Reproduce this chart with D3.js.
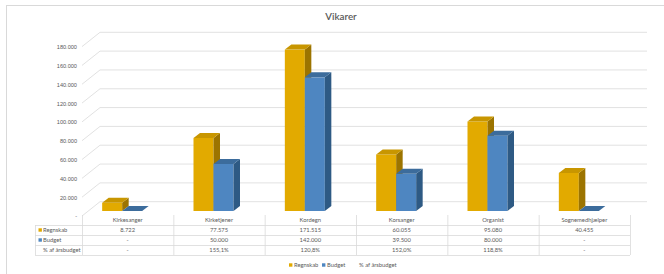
<!DOCTYPE html>
<html>
<head>
<meta charset="utf-8">
<script src="https://cdn.jsdelivr.net/npm/d3@7"></script>
<style>
  body { margin: 0; background: #fff; }
  svg { display: block; font-family: Lato, "Open Sans", sans-serif; }
  text { fill: #595959; }
</style>
</head>
<body>
<script>
const categories = ["Kirkesanger", "Kirketjener", "Kordegn", "Korsanger", "Organist", "Sognemedhjælper"];
const regnskab = [8722, 77575, 171515, 60055, 95080, 40455];
const budget = [0, 50000, 142000, 39500, 80000, 0];
const pctLabels = ["-", "155,1%", "120,8%", "152,0%", "118,8%", "-"];
const yTicks = [0, 20000, 40000, 60000, 80000, 100000, 120000, 140000, 160000, 180000];

const W = 664, H = 274;
const orange = { front: "#E2AA00", top: "#C89600", side: "#9C7400" };
const blue = { front: "#4E86C1", top: "#3C6C9C", side: "#2E5A84" };
const grid = "#d9d9d9";

const da = d3.formatLocale({ decimal: ",", thousands: ".", grouping: [3], currency: ["", " kr"] });
const fmt = v => v === 0 ? "-" : da.format(",d")(v);

const svg = d3.select("body").append("svg")
  .attr("width", W)
  .attr("height", H)

// frame (cropped at right/bottom)
svg.append("rect")
  .attr("x", 6.5).attr("y", 5.5)
  .attr("width", 720).attr("height", 300)
  .attr("fill", "none")
  .attr("stroke", "#d9d9d9")

svg.append("text")
  .text("Vikarer")
  .attr("x", 341)
  .attr("y", 20)
  .attr("text-anchor", "middle")
  .style("font-size", "9.8px")
  .style("font-weight", "600")
  .attr("fill", "#404040")

const x = d3.scaleBand()
  .domain(categories)
  .range([82, 630])

// front edge of floor / value axis
const yFront = d3.scaleLinear().domain([0, 180000]).range([216, 46.6]);
const wallDx = 18, wallDy = -14.3, wallRight = 647;

// gridlines on floor edge + back wall
svg.append("g")
  .selectAll("polyline")
  .data(yTicks)
  .enter()
  .append("polyline")
  .attr("points", d => {
    const yf = yFront(d), yb = yf + wallDy;
    return [[82, yf], [82 + wallDx, yb], [wallRight, yb]].map(p => p.join(",")).join(" ");
  })
  .attr("fill", "none")
  .attr("stroke", grid)
  .attr("stroke-width", 0.8)

const yAxis = d3.axisLeft(yFront)
  .tickValues(yTicks)
  .tickSize(0)
  .tickPadding(0)
  .tickFormat(d => fmt(d));

svg.append("g")
  .attr("id", "y-axis")
  .attr("transform", "translate(77,0)")
  .call(yAxis)
  .call(g => g.select(".domain").remove())
  .call(g => g.selectAll("text").style("font-size", "5.6px").attr("fill", "#595959").attr("dy", "0.35em"))

// 3D columns
const yBar = d3.scaleLinear().domain([0, 180000]).range([211, 211 - 169.4]);
const barW = 20, dx = 6.5, dy = -5;

function drawBar(g, x0, v, col) {
  const yb = yBar(0), yt = yBar(v);
  const pts = a => a.map(p => p.join(",")).join(" ");
  if (v > 0) {
    g.append("rect")
      .attr("x", x0).attr("y", yt)
      .attr("width", barW).attr("height", yb - yt)
      .attr("fill", col.front)
    g.append("polygon")
      .attr("points", pts([[x0 + barW, yt], [x0 + barW + dx, yt + dy], [x0 + barW + dx, yb + dy], [x0 + barW, yb]]))
      .attr("fill", col.side)
    g.append("polygon")
      .attr("points", pts([[x0, yt], [x0 + barW, yt], [x0 + barW + dx, yt + dy], [x0 + dx, yt + dy]]))
      .attr("fill", col.top)
  } else {
    g.append("polygon")
      .attr("points", pts([[x0, yb], [x0 + barW, yb], [x0 + barW + dx, yb + dy], [x0 + dx, yb + dy]]))
      .attr("fill", col.top)
  }
}

const bars = svg.append("g").attr("id", "bars");
categories.forEach((c, i) => {
  const cx = x(c) + x.bandwidth() / 2;
  drawBar(bars, cx - 25.5, regnskab[i], orange);
  drawBar(bars, cx - 5.5, budget[i], blue);
});

// data table
const table = svg.append("g").attr("id", "table");
const rowTop = 215, headH = 10, rowH = 10;
const tableLeft = 35, tableRight = 630;
const rows = [
  { label: "Regnskab", key: orange.front, vals: regnskab.map(fmt) },
  { label: "Budget", key: blue.front, vals: budget.map(fmt) },
  { label: "% af årsbudget", key: null, vals: pctLabels }
];

// horizontal lines
[0, 1, 2, 3].forEach(r => {
  table.append("line")
    .attr("x1", tableLeft).attr("x2", tableRight)
    .attr("y1", rowTop + headH + r * rowH + 0.5)
    .attr("y2", rowTop + headH + r * rowH + 0.5)
    .attr("stroke", grid).attr("stroke-width", 0.8)
})
// vertical lines
const vx = categories.map(c => x(c)).concat([tableRight]);
vx.forEach(v => {
  table.append("line")
    .attr("x1", v + 0.5).attr("x2", v + 0.5)
    .attr("y1", rowTop).attr("y2", rowTop + headH + 3 * rowH)
    .attr("stroke", grid).attr("stroke-width", 0.8)
})
table.append("line")
  .attr("x1", tableLeft + 0.5).attr("x2", tableLeft + 0.5)
  .attr("y1", rowTop + headH).attr("y2", rowTop + headH + 3 * rowH)
  .attr("stroke", grid).attr("stroke-width", 0.8)

// header
table.selectAll("text.cat")
  .data(categories)
  .enter()
  .append("text")
  .attr("class", "cat")
  .text(d => d)
  .attr("x", d => x(d) + x.bandwidth() / 2)
  .attr("y", rowTop + headH / 2 + 2)
  .attr("text-anchor", "middle")
  .style("font-size", "5.8px")

rows.forEach((row, r) => {
  const cy = rowTop + headH + r * rowH + rowH / 2;
  if (row.key) {
    table.append("rect")
      .attr("x", 38.5).attr("y", cy - 1.7)
      .attr("width", 3.4).attr("height", 3.4)
      .attr("fill", row.key)
  }
  table.append("text")
    .text(row.label)
    .attr("x", 43)
    .attr("y", cy + 2)
    .style("font-size", "5.8px")
  row.vals.forEach((v, i) => {
    table.append("text")
      .text(v)
      .attr("x", x(categories[i]) + x.bandwidth() / 2)
      .attr("y", cy + 2)
      .attr("text-anchor", "middle")
      .style("font-size", "5.8px")
  })
})

// legend
const legend = svg.append("g").attr("id", "legend");
const legendItems = [
  { label: "Regnskab", color: orange.front, x: 289 },
  { label: "Budget", color: blue.front, x: 322 },
  { label: "% af årsbudget", color: null, x: 354 }
];
legendItems.forEach(it => {
  if (it.color) {
    legend.append("rect")
      .attr("x", it.x).attr("y", 263.3)
      .attr("width", 3.4).attr("height", 3.4)
      .attr("fill", it.color)
  }
  legend.append("text")
    .text(it.label)
    .attr("x", it.x + 5)
    .attr("y", 267)
    .style("font-size", "5.8px")
})
</script>
</body>
</html>
